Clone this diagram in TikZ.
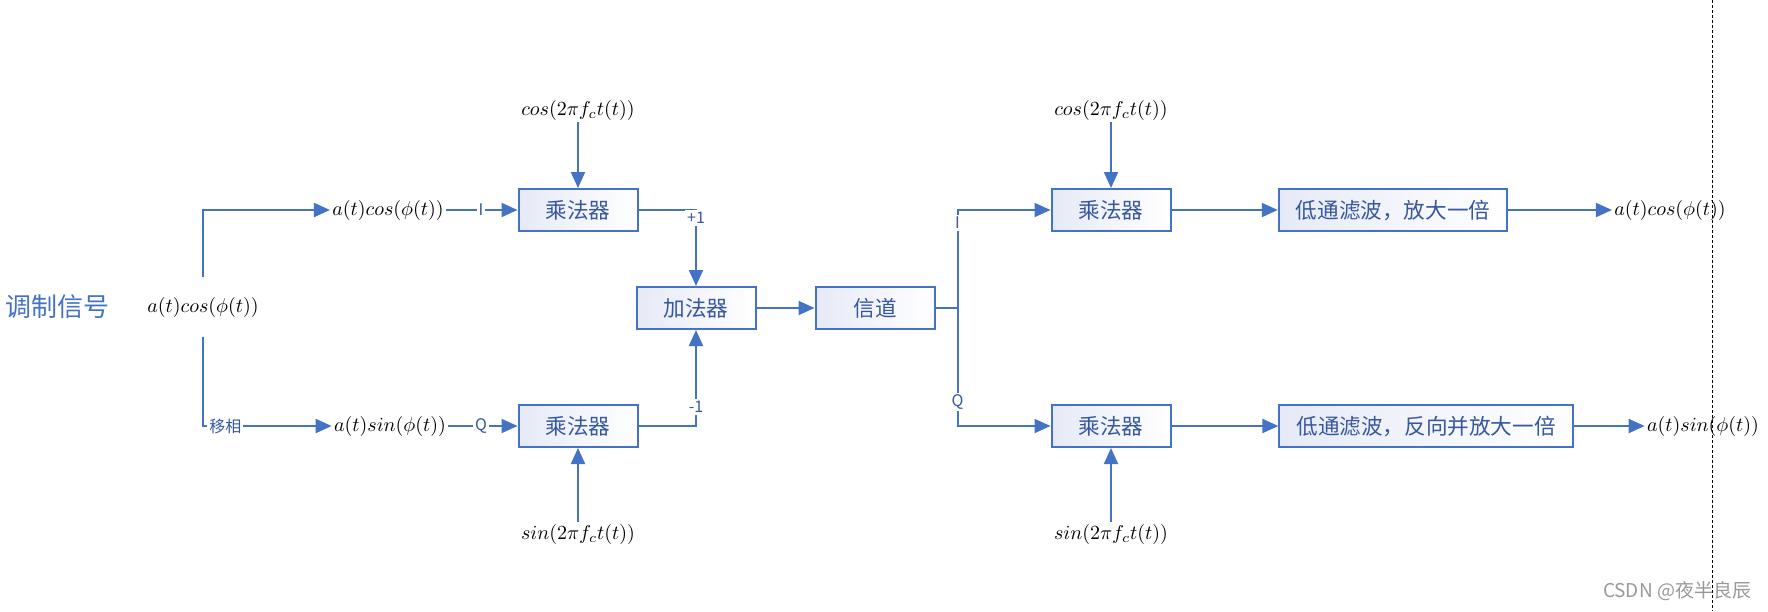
\documentclass[tikz,border=0pt]{standalone}
\usepackage{fontspec}
\newfontfamily\cjk{Noto Sans CJK SC}
\usetikzlibrary{arrows.meta}
\definecolor{lineblue}{RGB}{68,114,196}
\definecolor{textblue}{RGB}{55,87,160}
\definecolor{boxfill}{RGB}{230,234,246}
\tikzset{
  block/.style={draw=lineblue, line width=1pt, left color=boxfill, right color=white, text=textblue, font=\cjk\fontsize{10.8}{12}\selectfont, minimum width=59.5pt, minimum height=21pt, inner xsep=8.5pt},
  sig/.style={inner xsep=1pt, inner ysep=1pt, font=\fontsize{10}{12}\selectfont},
  tag/.style={fill=white, text=textblue, inner sep=1pt, font=\cjk\fontsize{8}{9}\selectfont},
  link/.style={draw=lineblue, line width=1pt},
  wire/.style={link, -{Triangle[length=8pt,width=7pt,fill=lineblue]}},
}
\begin{document}
\begin{tikzpicture}[x=0.5pt, y=-0.5pt]
\useasboundingbox (0,0) rectangle (1768,611);
\node[text=lineblue, font=\cjk\fontsize{13}{15}\selectfont] (title) at (57,307) {调制信号};
\node[sig, inner ysep=10pt] (src) at (203,307) {$a(t)cos(\phi(t))$};
\node[sig] (cosI) at (388,210) {$a(t)cos(\phi(t))$};
\node[sig] (sinQ) at (390,426) {$a(t)sin(\phi(t))$};
\node[block] (mulA) at (578,210) {乘法器};
\node[block] (mulB) at (578,426) {乘法器};
\node[sig] (carA) at (578,110) {$cos(2\pi f_c t(t))$};
\node[sig] (carB) at (578,534) {$sin(2\pi f_c t(t))$};
\node[block] (adder) at (696,308) {加法器};
\node[block] (chan) at (875,308) {信道};
\coordinate (split) at (957.5,308);
\node[block] (mulC) at (1111,210) {乘法器};
\node[block] (mulD) at (1111,426) {乘法器};
\node[sig] (carC) at (1111,110) {$cos(2\pi f_c t(t))$};
\node[sig] (carD) at (1111,534) {$sin(2\pi f_c t(t))$};
\node[block] (lpfA) at (1393,210) {低通滤波，放大一倍};
\node[block] (lpfB) at (1426,426) {低通滤波，反向并放大一倍};
\node[sig] (outA) at (1670,210) {$a(t)cos(\phi(t))$};
\node[sig] (outB) at (1703,426) {$a(t)sin(\phi(t))$};
\draw[wire] (src.north) |- (cosI.west);
\draw[wire] (src.south) |- (sinQ.west);
\path [wire] (cosI) edge (mulA);
\path [wire] (sinQ) edge (mulB);
\path [wire] (carA) edge (mulA);
\path [wire] (carB) edge (mulB);
\draw[wire] (mulA.east) -| (adder.north);
\draw[wire] (mulB.east) -| (adder.south);
\path [wire] (adder) edge (chan);
\draw[link] (chan.east) -- (split);
\draw[wire] (split) |- (mulC.west);
\draw[wire] (split) |- (mulD.west);
\path [wire] (carC) edge (mulC);
\path [wire] (carD) edge (mulD);
\path [wire] (mulC) edge (lpfA);
\path [wire] (mulD) edge (lpfB);
\path [wire] (lpfA) edge (outA);
\path [wire] (lpfB) edge (outB);
\node[tag] (tagIa) at (481,210) {I};
\node[tag] (tagQa) at (481,426) {Q};
\node[tag] (tagP) at (696,218) {+1};
\node[tag] (tagM) at (696,407) {-1};
\node[tag] (tagIb) at (957.5,223) {I};
\node[tag] (tagQb) at (957.5,402) {Q};
\node[tag, anchor=west] (tagS) at (207,426) {移相};
\draw[line width=0.5pt, dash pattern=on 1.5pt off 1pt] (1712.5,0) -- (1712.5,611);
\node[text=black!40, font=\cjk\fontsize{9.5}{11}\selectfont] (mark) at (1677,591) {CSDN @夜半良辰};
\end{tikzpicture}
\end{document}
